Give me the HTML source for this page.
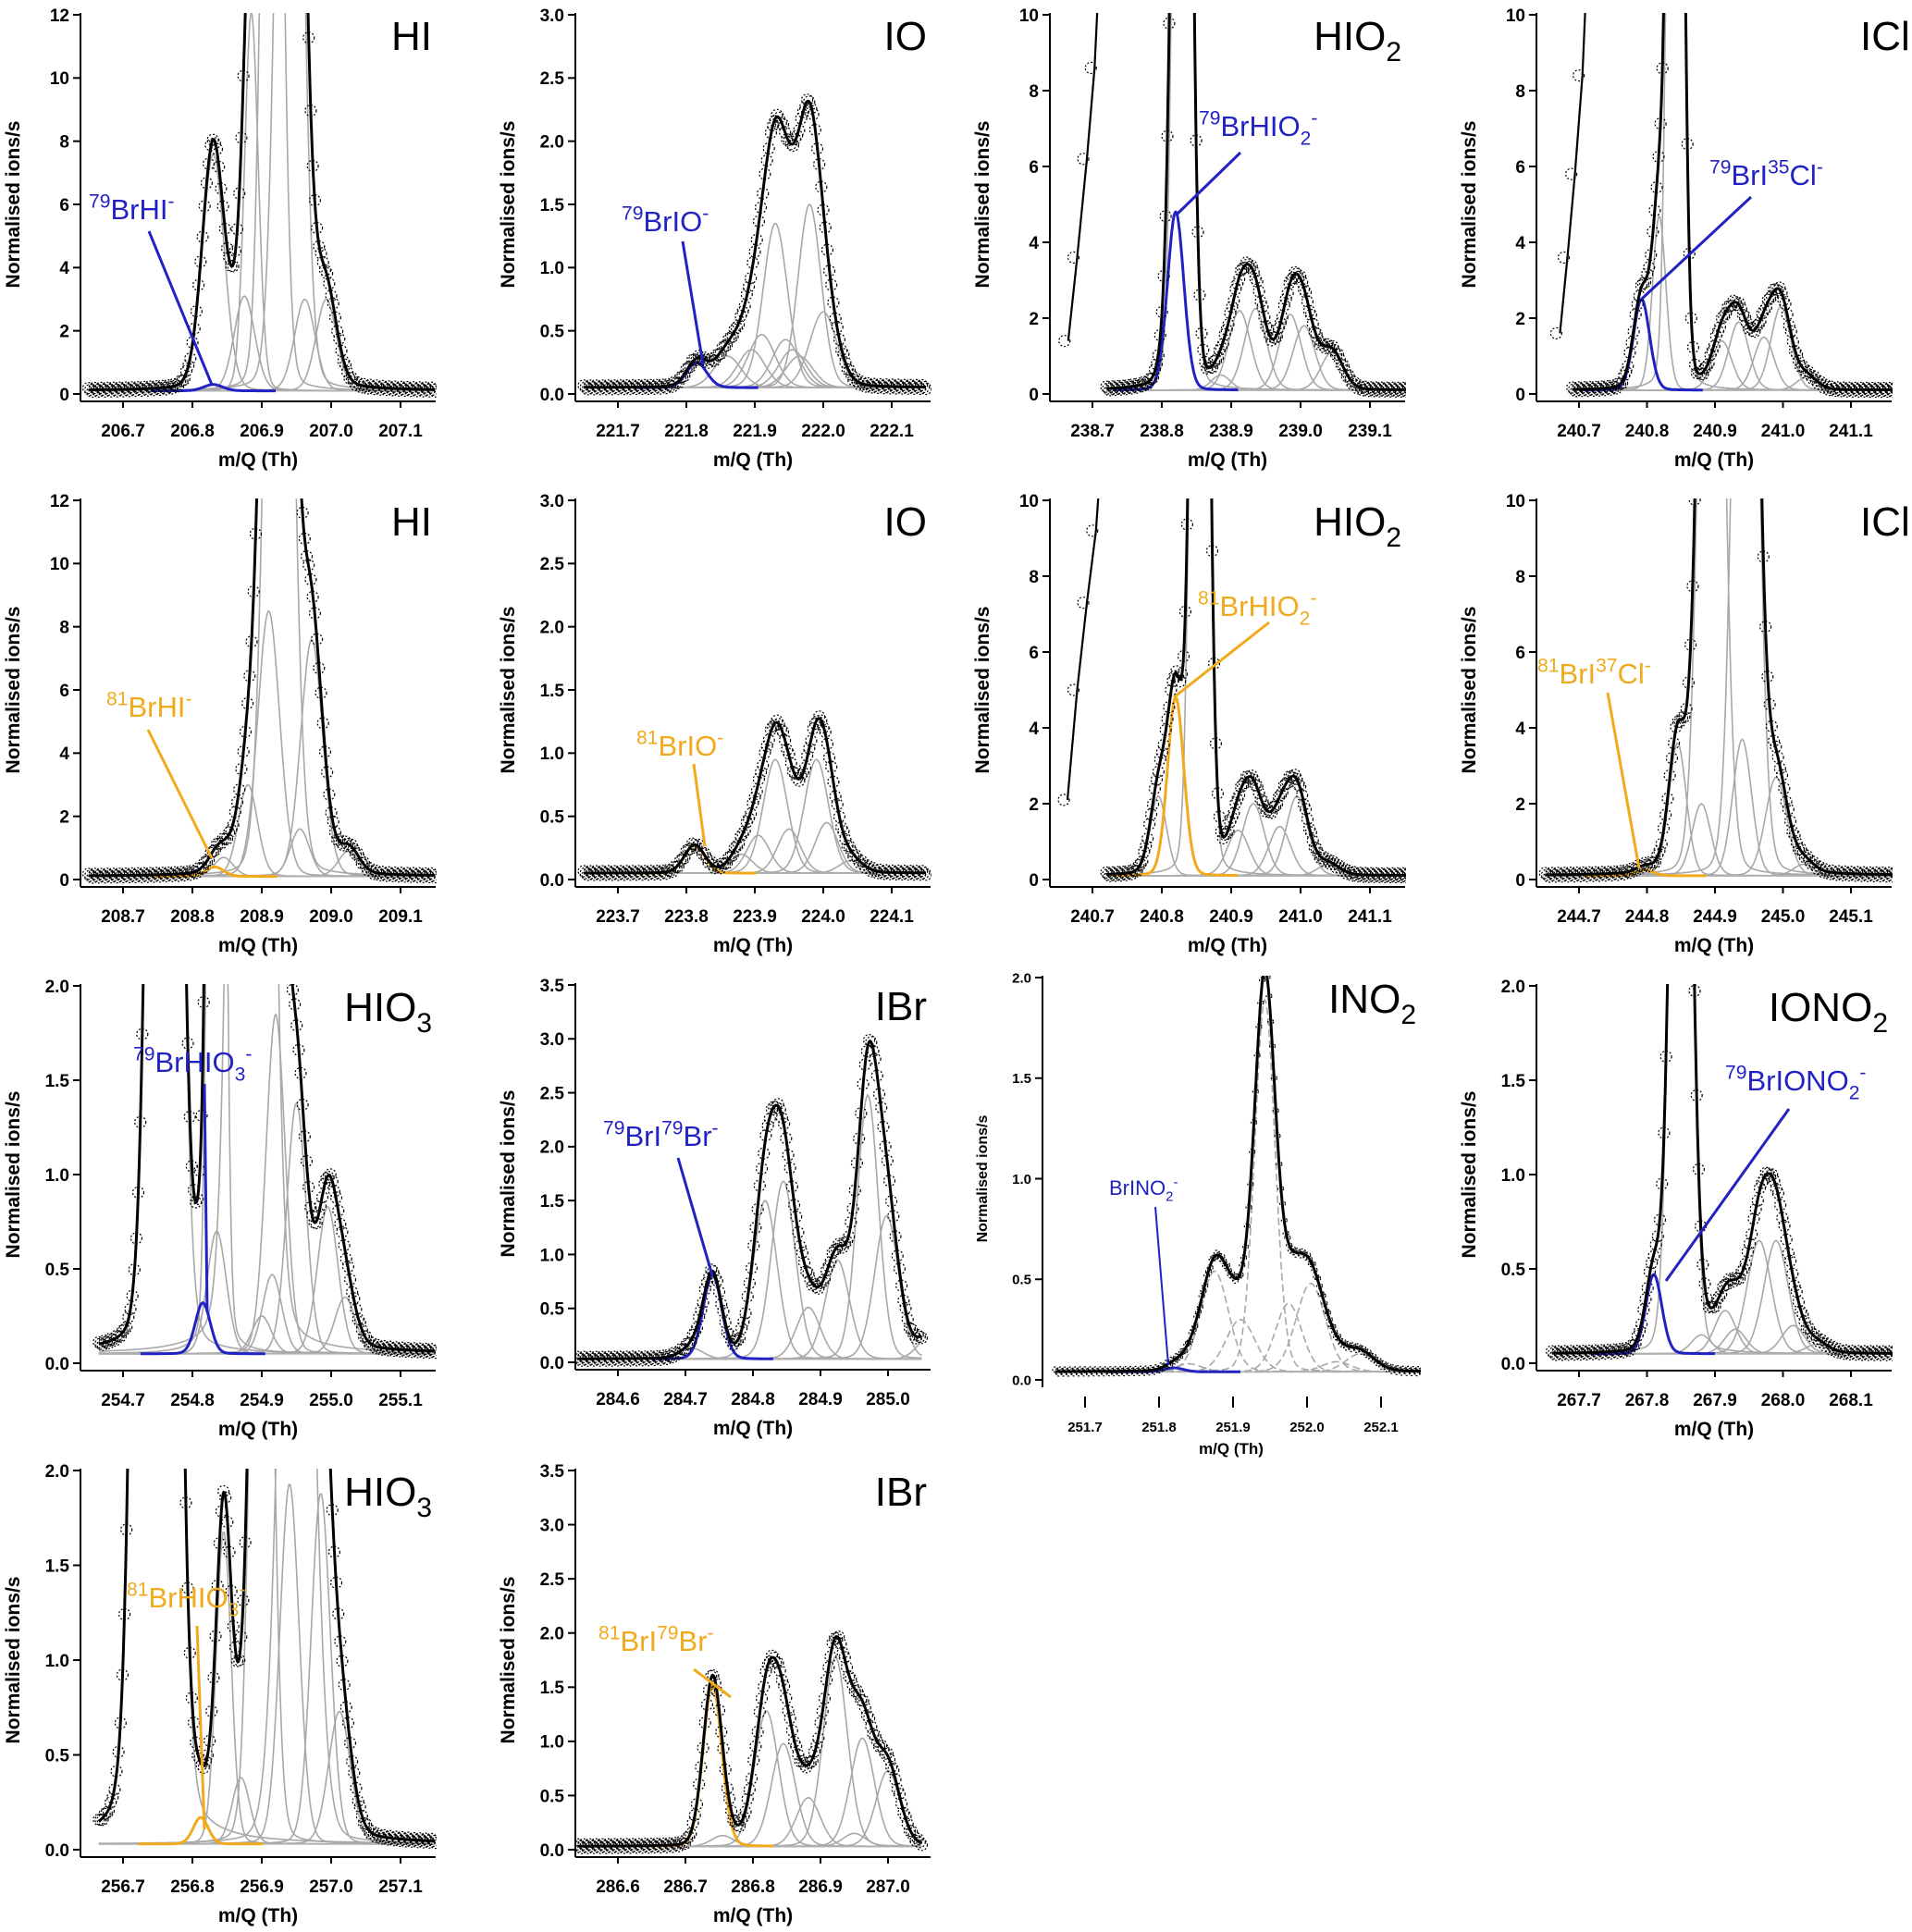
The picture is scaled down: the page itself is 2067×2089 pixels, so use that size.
<!DOCTYPE html>
<html><head><meta charset="utf-8"><style>
html,body{margin:0;padding:0;background:#fff}
svg{display:block}
text{font-family:"Liberation Sans",sans-serif}
.tk{font-weight:bold;font-size:19px;fill:#000}
.ttl{font-weight:bold;font-size:21px;fill:#000}
.lab{font-size:44px;fill:#000}
</style></head><body>
<svg id="fig" width="2067" height="2089" viewBox="0 0 2067 2089" xmlns="http://www.w3.org/2000/svg"></svg>
<script>
// ---- data: components [center, height, sigma] per panel ----
const hiAComps=[[206.83,7.5,.016],[206.875,3,.015],[206.885,12,.01],[206.915,40,.012],[206.94,40,.015],[206.962,2.9,.015],[206.993,2.9,.015]];
const hiAHl=[206.83,.2,.014];
const ioAComps=[[221.86,.25,.02],[221.895,.3,.02],[221.91,.42,.02],[221.93,1.3,.018],[221.945,.38,.02],[221.955,.3,.02],[221.965,.25,.02],[221.98,1.45,.017],[222.0,.6,.02]];
const ioAHl=[221.815,.2,.015];
const hio2AComps=[[238.83,40,.01],[238.885,.4,.014],[238.912,2.1,.016],[238.935,2.15,.016],[238.985,2,.016],[239.005,1.7,.016],[239.045,1,.016]];
const hio2AHl=[238.82,4.7,.012];
const hio2AEdge=[[238.665,1.4],[238.678,3.6],[238.692,6.2],[238.703,8.6],[238.708,10.5]];
const iclAComps=[[240.818,4.6,.01],[240.842,40,.009],[240.91,1.3,.015],[240.935,1.8,.015],[240.972,1.4,.015],[240.997,2.2,.015],[241.035,.35,.015]];
const iclAHl=[240.792,2.4,.012];
const iclAEdge=[[240.672,1.6],[240.683,3.6],[240.694,5.8],[240.705,8.4],[240.71,10.5]];
const hiBComps=[[208.845,.6,.014],[208.88,2.9,.014],[208.91,8.4,.016],[208.925,40,.016],[208.955,1.5,.014],[208.972,7.5,.016],[209.025,.8,.015]];
const hiBHl=[208.832,.3,.013];
const ioBComps=[[223.88,.15,.017],[223.905,.3,.017],[223.93,.9,.018],[223.95,.35,.017],[223.99,.9,.018],[224.005,.4,.017],[224.04,.1,.017]];
const ioBHl=[223.812,.22,.015];
const hio2BComps=[[240.795,2.1,.012],[240.855,40,.01],[240.91,1.2,.016],[240.932,1.9,.016],[240.97,1.3,.016],[240.995,2.1,.016],[241.04,.3,.016]];
const hio2BHl=[240.82,4.7,.012];
const hio2BEdge=[[240.664,2.1],[240.678,5.0],[240.692,7.3],[240.705,9.2],[240.71,10.5]];
const iclBComps=[[244.845,3.5,.013],[244.88,1.9,.014],[244.895,30,.015],[244.94,3.6,.014],[244.945,30,.015],[244.99,2.6,.016],[245.03,.3,.015]];
const iclBHl=[244.797,.15,.013];
const hio3AComps=[[254.76,12,.016],[254.835,15,.008],[254.835,.65,.014],[254.885,20,.018],[254.9,.2,.014],[254.915,.42,.014],[254.92,1.8,.014],[254.95,1.33,.014],[254.995,.78,.015],[255.02,.3,.015]];
const hio3AHl=[254.815,.27,.011];
const ibrAComps=[[284.71,.1,.017],[284.818,1.47,.018],[284.845,1.65,.018],[284.882,.48,.018],[284.925,.92,.018],[284.97,2.45,.016],[284.998,1.33,.018],[285.06,.2,.017]];
const ibrAHl=[284.74,.78,.014];
const ino2Comps=[[251.84,.04,.018],[251.875,.5,.019],[251.91,.26,.02],[251.943,1.85,.014],[251.975,.34,.018],[252.005,.44,.02],[252.04,.05,.02],[252.072,.09,.02]];
const ino2Hl=[251.82,.02,.013];
const iono2Comps=[[267.85,6,.013],[267.88,.1,.015],[267.915,.23,.016],[267.93,.13,.016],[267.965,.6,.018],[267.99,.6,.018],[268.015,.15,.017],[268.05,.05,.017]];
const iono2Hl=[267.81,.42,.012];
const hio3BComps=[[256.748,25,.018],[256.845,1.65,.011],[256.87,.35,.013],[256.9,6,.013],[256.94,1.9,.014],[256.95,6,.02],[256.985,1.85,.014],[257.012,.7,.016]];
const hio3BHl=[256.812,.14,.011];
const ibrBComps=[[286.755,.1,.017],[286.82,1.25,.018],[286.845,.95,.018],[286.882,.45,.018],[286.922,1.75,.018],[286.95,.12,.017],[286.962,1.0,.018],[287.0,.7,.018]];
const ibrBHl=[286.74,1.5,.014];
const yTicks12=["0","2","4","6","8","10","12"];
const yTicks10=["0","2","4","6","8","10"];
const yTicks30=["0.0","0.5","1.0","1.5","2.0","2.5","3.0"];
const yTicks35=["0.0","0.5","1.0","1.5","2.0","2.5","3.0","3.5"];
const yTicks20=["0.0","0.5","1.0","1.5","2.0"];

const BLUE="#2222c4", ORANGE="#f0aa1c";
const P=[
 {id:"hi-79",ax:87,top:16,zero:426,t0:206.7,ppu:750,ymax:12,yt:yTicks12,comps:hiAComps,hl:hiAHl,col:BLUE,base:.1,fit:[206.65,207.15],lab:["HI"],ann:[["79","BrHI","","-"]],tx:96,ty:237,ln:[161,250,229,416]},
 {id:"io-79",ax:622,top:16,zero:426,t0:221.7,ppu:740,ymax:3,yt:yTicks30,comps:ioAComps,hl:ioAHl,col:BLUE,base:.05,fit:[221.65,222.15],lab:["IO"],ann:[["79","BrIO","","-"]],tx:672,ty:250,ln:[738,261,760,394]},
 {id:"hio2-79",ax:1135,top:16,zero:426,t0:238.7,ppu:750,ymax:10,yt:yTicks10,comps:hio2AComps,hl:hio2AHl,col:BLUE,base:.1,fit:[238.72,239.16],edge:hio2AEdge,lab:["HIO","2"],ann:[["79","BrHIO","2","-"]],tx:1296,ty:147,ln:[1341,165,1273,231]},
 {id:"icl-79",ax:1661,top:16,zero:426,t0:240.7,ppu:735,ymax:10,yt:yTicks10,comps:iclAComps,hl:iclAHl,col:BLUE,base:.1,fit:[240.69,241.17],edge:iclAEdge,lab:["ICl"],labL:2011,ann:[["79","BrI","","35","Cl","-"]],tx:1848,ty:200,ln:[1893,213,1775,323]},
 {id:"hi-81",ax:87,top:541,zero:951,t0:208.7,ppu:750,ymax:12,yt:yTicks12,comps:hiBComps,hl:hiBHl,col:ORANGE,base:.1,fit:[208.65,209.15],lab:["HI"],ann:[["81","BrHI","","-"]],tx:115,ty:775,ln:[160,789,229,928]},
 {id:"io-81",ax:622,top:541,zero:951,t0:223.7,ppu:740,ymax:3,yt:yTicks30,comps:ioBComps,hl:ioBHl,col:ORANGE,base:.05,fit:[223.65,224.15],lab:["IO"],ann:[["81","BrIO","","-"]],tx:688,ty:817,ln:[750,826,762,915]},
 {id:"hio2-81",ax:1135,top:541,zero:951,t0:240.7,ppu:750,ymax:10,yt:yTicks10,comps:hio2BComps,hl:hio2BHl,col:ORANGE,base:.1,fit:[240.72,241.16],edge:hio2BEdge,lab:["HIO","2"],ann:[["81","BrHIO","2","-"]],tx:1295,ty:666,ln:[1372,673,1269,754]},
 {id:"icl-81",ax:1661,top:541,zero:951,t0:244.7,ppu:735,ymax:10,yt:yTicks10,comps:iclBComps,hl:iclBHl,col:ORANGE,base:.1,fit:[244.65,245.17],lab:["ICl"],labL:2011,ann:[["81","BrI","","37","Cl","-"]],tx:1662,ty:739,ln:[1738,749,1772,939]},
 {id:"hio3-79",ax:87,top:1066,zero:1474,t0:254.7,ppu:750,ymax:2,yt:yTicks20,comps:hio3AComps,hl:hio3AHl,col:BLUE,base:.05,fit:[254.665,255.15],lab:["HIO","3"],ann:[["79","BrHIO","3","-"]],tx:144,ty:1159,ln:[221,1172,224,1419]},
 {id:"ibr-79",ax:622,top:1065,zero:1473,t0:284.6,ppu:730,ymax:3.5,yt:yTicks35,comps:ibrAComps,hl:ibrAHl,col:BLUE,base:.03,fit:[284.54,285.05],lab:["IBr"],ann:[["79","BrI","","79","Br","-"]],tx:652,ty:1239,ln:[733,1252,770,1379]},
 {id:"ino2",ax:1127,top:1057,zero:1492,t0:251.7,ppu:800,ymax:2,yt:yTicks20,comps:ino2Comps,hl:ino2Hl,col:BLUE,base:.04,fit:[251.66,252.16],lab:["INO","2"],ann:[["","BrINO","2","-"]],tx:1199,ty:1292,ln:[1249,1305,1263,1476],small:true,dash:true,w:408},
 {id:"iono2",ax:1661,top:1066,zero:1474,t0:267.7,ppu:735,ymax:2,yt:yTicks20,comps:iono2Comps,hl:iono2Hl,col:BLUE,base:.05,fit:[267.66,268.17],lab:["IONO","2"],ann:[["79","BrIONO","2","-"]],tx:1865,ty:1179,ln:[1934,1199,1801,1385]},
 {id:"hio3-81",ax:87,top:1590,zero:2000,t0:256.7,ppu:750,ymax:2,yt:yTicks20,comps:hio3BComps,hl:hio3BHl,col:ORANGE,base:.03,fit:[256.665,257.15],lab:["HIO","3"],ann:[["81","BrHIO","3","-"]],tx:137,ty:1738,ln:[213,1758,221,1978]},
 {id:"ibr-81",ax:622,top:1590,zero:2000,t0:286.6,ppu:730,ymax:3.5,yt:yTicks35,comps:ibrBComps,hl:ibrBHl,col:ORANGE,base:.03,fit:[286.54,287.05],lab:["IBr"],ann:[["81","BrI","","79","Br","-"]],tx:647,ty:1785,ln:[750,1805,790,1835]}
];
const NS="http://www.w3.org/2000/svg";
const svg=document.getElementById('fig');
function mk(tag,at,par){const e=document.createElementNS(NS,tag);for(const k in at)e.setAttribute(k,at[k]);(par||svg).appendChild(e);return e;}
function shape(x,c){const z=(x-c[0])/c[2];return c[1]*(0.9*Math.exp(-0.5*z*z)+0.1/(1+z*z));}
let clipN=0;
P.forEach(p=>{
 const g=mk('g',{});
 
 
 const off=46,W=p.w||384,ppu=p.ppu;
 const X=v=>p.ax+off+(v-p.t0)*ppu;
 const Y=v=>p.zero-v/p.ymax*(p.zero-p.top);
 const base=p.zero+8;
 const small=!!p.small;
 const cid='c'+(clipN++);
 const cp=mk('clipPath',{id:cid},g);mk('rect',{x:p.ax+1,y:p.top-2,width:W,height:base-p.top},cp);
 const plot=mk('g',{'clip-path':'url(#'+cid+')'},g);
 const N=260;
 p.comps.forEach((c,i)=>{let d='';for(let k=0;k<=N;k++){const x=p.fit[0]+(p.fit[1]-p.fit[0])*k/N;d+=(k?'L':'M')+X(x).toFixed(1)+','+Math.max(Y(p.base+shape(x,c)),p.top-50).toFixed(1);}
  const e=mk('path',{d:d,fill:'none',stroke:'#a8a8a8','stroke-width':1.6},plot);
  if(p.dash)e.setAttribute('stroke-dasharray','8 4');
  
  });
 mk('line',{x1:X(p.fit[0]),x2:X(p.fit[1]),y1:Y(p.base),y2:Y(p.base),stroke:'#b0b0b0','stroke-width':1.6},plot);
 {let d='';const a=p.hl[0]-0.09,b=p.hl[0]+0.09;for(let k=0;k<=N;k++){const x=a+(b-a)*k/N;d+=(k?'L':'M')+X(x).toFixed(1)+','+Y(p.base+shape(x,p.hl)).toFixed(1);}
  const e=mk('path',{d:d,fill:'none',stroke:p.col,'stroke-width':3},plot);
  
  }
 const all=p.comps.concat([p.hl]);
 const sum=x=>p.base+all.reduce((s,c)=>s+shape(x,c),0);
 let d='';for(let k=0;k<=600;k++){const x=p.fit[0]+(p.fit[1]-p.fit[0])*k/600;d+=(k?'L':'M')+X(x).toFixed(1)+','+Math.max(Y(sum(x)),p.top-50).toFixed(1);}
 const fe=mk('path',{d:d,fill:'none',stroke:'#000','stroke-width':3},plot);
 
 
 const M=small?220:170;
 for(let k=0;k<=M;k++){const x=p.fit[0]+(p.fit[1]-p.fit[0])*k/M;const y=Y(sum(x));if(y<p.top-5)continue;
  const c=mk('circle',{cx:X(x).toFixed(1),cy:(y+((k%3)-1)*2).toFixed(1),r:small?3:6,fill:'none',stroke:'#000','stroke-width':1.2,'stroke-dasharray':'2 2'},plot);
  
  }
 if(p.edge){let d='';p.edge.forEach((q,i)=>{d+=(i?'L':'M')+X(q[0]).toFixed(1)+','+Y(q[1]).toFixed(1);});
  const e=mk('path',{d:d,fill:'none',stroke:'#000','stroke-width':2.2},plot);
  
  
  p.edge.forEach(q=>{const c=mk('circle',{cx:X(q[0])-4,cy:Y(q[1]),r:6,fill:'none',stroke:'#000','stroke-width':1.2,'stroke-dasharray':'2 2'},plot);
   
   });}
 const ya=mk('line',{x1:p.ax,x2:p.ax,y1:p.top-2,y2:base,stroke:'#000','stroke-width':2},g);
 
 
 if(!small){const xa=mk('line',{x1:p.ax,x2:p.ax+W,y1:base,y2:base,stroke:'#000','stroke-width':2},g);
  
  }
 const fs=small?15:19;
 p.yt.forEach((t,i)=>{const v=i*p.ymax/(p.yt.length-1),y=Y(v);
  mk('line',{x1:p.ax-8,x2:p.ax,y1:y,y2:y,stroke:'#000','stroke-width':2},g);
  const e=mk('text',{x:p.ax-12,y:y+fs*0.36,'text-anchor':'end',class:'tk'},g);e.style.fontSize=fs+'px';e.textContent=t;
  
  });
 for(let i=0;i<5;i++){const v=p.t0+i*0.1,x=X(v);
  if(small)mk('line',{x1:x,x2:x,y1:base+10,y2:base+22,stroke:'#000','stroke-width':2},g);
  else mk('line',{x1:x,x2:x,y1:base,y2:base+7,stroke:'#000','stroke-width':2},g);
  const e=mk('text',{x:x,y:base+(small?48:38),'text-anchor':'middle',class:'tk'},g);e.style.fontSize=fs+'px';e.textContent=v.toFixed(1);
  
  }
 const xt=mk('text',{x:p.ax+W/2,y:base+(small?72:70),'text-anchor':'middle',class:'ttl'},g);xt.style.fontSize=(small?17:21)+'px';xt.textContent='m/Q (Th)';
 
 
 const cy=(p.top+p.zero)/2,tx=p.ax-(small?60:66);
 const yt=mk('text',{x:tx,y:cy,'text-anchor':'middle',class:'ttl',transform:'rotate(-90 '+tx+' '+cy+')'},g);yt.style.fontSize=(small?16:21)+'px';yt.textContent='Normalised ions/s';
 
 
 const lt=mk('text',p.labL?{x:p.labL,y:p.top+38,class:'lab'}:{x:p.ax+W-4,y:p.top+38,'text-anchor':'end',class:'lab'},g);
 lt.appendChild(document.createTextNode(p.lab[0]));
 if(p.lab[1]){const s=mk('tspan',{'font-size':30,dy:12},lt);s.textContent=p.lab[1];}
 
 
 const a=p.ann[0],afs=small?22:31;
 const at=mk('text',{x:p.tx,y:p.ty,fill:p.col},g);at.style.fontSize=afs+'px';
 const sp=(txt,dy,sz)=>{if(!txt)return;const s=mk('tspan',{dy:dy},at);s.style.fontSize=sz+'px';s.textContent=txt;};
 const sup=afs*0.68;
 if(a[0])sp(a[0],-afs*0.4,sup);
 sp(a[1],a[0]?afs*0.4:0,afs);
 let lvl=0;
 if(a[2]){sp(a[2],afs*0.3,sup);lvl=afs*0.3;}
 if(a.length>4){sp(a[3],-afs*0.4-lvl,sup);sp(a[4],afs*0.4,afs);sp(a[5],-afs*0.4,sup);}
 else{sp(a[3],-afs*0.7-lvl+afs*0.3,sup);}
 
 
 const al=mk('line',{x1:p.ln[0],y1:p.ln[1],x2:p.ln[2],y2:p.ln[3],stroke:p.col,'stroke-width':small?2:3},g);
 
 
});
</script>
</body></html>
